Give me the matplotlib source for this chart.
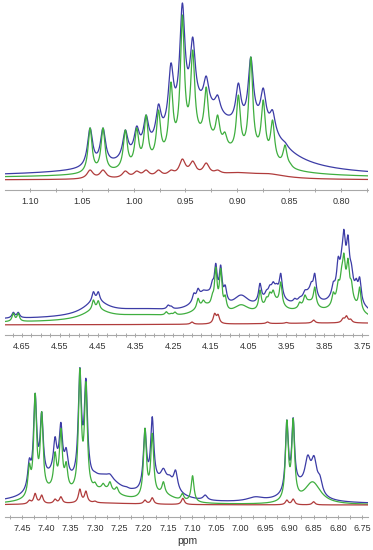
import numpy as np
import matplotlib
matplotlib.use('Agg')
import matplotlib.pyplot as plt
from matplotlib.ticker import MultipleLocator, FormatStrFormatter
from matplotlib import font_manager

# ---------------- data (intensities in arbitrary units) ----------------
# Panel 1 : 0.77 - 1.12 ppm
p1_range = (1.124, 0.774)
p1_blue_base = 13
p1_blue_env_c = [0.935, 0.875]
p1_blue_env_h = [62, 30]
p1_blue_env_w = [0.04, 0.025]
p1_blue_pk = [1.042, 1.0295, 1.008, 0.997, 0.988, 0.976, 0.964, 0.953, 0.943, 0.930, 0.919, 0.899, 0.887, 0.875, 0.866, 0.854]
p1_blue_h = [62, 62, 60, 64, 75, 86, 127, 187, 153, 114, 95, 107, 133, 102, 80, 48]

p1_green_base = 12
p1_green_env_c = [0.935, 0.88]
p1_green_env_h = [35, 10]
p1_green_env_w = [0.035, 0.02]
p1_green_pk = [1.042, 1.0295, 1.008, 0.997, 0.988, 0.976, 0.964, 0.953, 0.943, 0.930, 0.919, 0.912, 0.899, 0.887, 0.875, 0.866, 0.854, 0.849]
p1_green_h = [62, 62, 60, 62, 75, 80, 108, 175, 140, 103, 75, 58, 95, 133, 90, 70, 45, 27]

p1_red_base = 10
p1_red_env_c = [0.94, 0.90, 0.87]
p1_red_env_h = [3, 4, 4]
p1_red_env_w = [0.05, 0.02, 0.02]
p1_red_pk = [1.042, 1.0295, 1.008, 0.997, 0.988, 0.976, 0.964, 0.953, 0.943, 0.930, 0.919]
p1_red_h = [20, 20, 19, 19, 20, 20, 20, 31, 29, 27, 20]

# Panel 2 : 3.73 - 4.70 ppm
p2_range = (4.695, 3.734)
p2_blue_base = 15
p2_blue_env_c = [4.455, 4.33, 4.165, 4.07, 3.985, 3.89, 3.95, 3.795]
p2_blue_env_h = [14, 8, 20, 14, 18, 16, 6, 36]
p2_blue_env_w = [0.04, 0.12, 0.035, 0.025, 0.028, 0.025, 0.15, 0.03]
p2_blue_pk = [4.673, 4.660, 4.461, 4.448, 4.263, 4.255, 4.195, 4.184, 4.17, 4.157, 4.146, 4.137, 4.124, 4.112,
              4.02, 4.003, 3.994, 3.985, 3.976, 3.965, 3.928, 3.915, 3.901, 3.884, 3.875,
              3.826, 3.813, 3.804, 3.798, 3.787, 3.778, 3.765, 3.756]
p2_blue_h = [22.7, 22.7, 43.3, 43.3, 30, 29, 42, 46.7, 45, 43, 55, 71.7, 70, 50,
             51.7, 45, 50, 53.3, 51.7, 61.7, 36.7, 38, 45, 53.3, 61.7,
             53.3, 78.3, 85, 105.7, 100, 71.7, 56.7, 58]

p2_green_base = 12
p2_green_env_c = [4.455, 4.33, 4.165, 4.07, 3.985, 3.89, 3.95, 3.795]
p2_green_env_h = [10, 6, 12, 10, 14, 12, 5, 26]
p2_green_env_w = [0.04, 0.12, 0.035, 0.025, 0.028, 0.025, 0.15, 0.03]
p2_green_pk = [4.673, 4.660, 4.461, 4.448, 4.268, 4.255, 4.245, 4.184, 4.17, 4.146, 4.137, 4.124, 4.112,
               4.02, 4.003, 3.994, 3.985, 3.965, 3.915, 3.901, 3.875,
               3.826, 3.813, 3.804, 3.798, 3.787, 3.778, 3.756]
p2_green_h = [21.7, 21.7, 35, 34.3, 23.3, 21.7, 23, 36.7, 35, 41.7, 68, 66.7, 40,
              45, 38, 43, 45, 53, 33, 40, 48,
              43, 55, 68, 82, 76.7, 55, 48]

p2_red_base = 10
p2_red_env_c = [3.8]
p2_red_env_h = [2]
p2_red_env_w = [0.3]
p2_red_pk = [4.2, 4.14, 4.131, 4.0, 3.95, 3.878, 3.80, 3.791, 3.78]
p2_red_h = [13, 21.7, 20.7, 13, 12.5, 15, 17, 19.3, 16]

# Panel 3 : 6.73 - 7.49 ppm
p3_range = (7.485, 6.738)
p3_blue_base = 13
p3_blue_env_c = [7.38, 7.28, 7.16, 6.97, 6.88]
p3_blue_env_h = [25, 22, 18, 4, 15]
p3_blue_env_w = [0.04, 0.04, 0.03, 0.02, 0.03]
p3_blue_pk = [7.435, 7.423, 7.4095, 7.382, 7.370, 7.359, 7.331, 7.3185, 7.300, 7.283, 7.269, 7.259,
              7.235, 7.221, 7.197, 7.182, 7.159, 7.146, 7.134, 7.073, 6.905, 6.892, 6.862, 6.849, 6.837]
p3_blue_h = [58.7, 123.7, 105.3, 80.3, 94.7, 69.3, 149.3, 138.7, 45.3, 42, 43, 37,
             30.3, 28.7, 88.7, 100.3, 48.7, 42, 47, 22, 97, 99.3, 62, 61.3, 42]
p3_blue_pw = [0.004, 0.004, 0.004, 0.004, 0.004, 0.004, 0.004, 0.004, 0.006, 0.006, 0.006, 0.006,
              0.006, 0.006, 0.004, 0.004, 0.006, 0.006, 0.005, 0.005, 0.0035, 0.0035, 0.007, 0.007, 0.006]

p3_green_base = 12
p3_green_env_c = [7.38, 7.28, 7.16, 6.852]
p3_green_env_h = [12, 12, 8, 22]
p3_green_env_w = [0.04, 0.04, 0.03, 0.02]
p3_green_pk = [7.435, 7.423, 7.4095, 7.382, 7.370, 7.359, 7.331, 7.3185, 7.300, 7.283, 7.269, 7.255,
               7.221, 7.197, 7.182, 7.159, 7.12, 7.099, 6.905, 6.892]
p3_green_h = [53.7, 123.7, 105.3, 65.3, 88.7, 55.3, 148.7, 135.3, 35, 33.7, 35.3, 30,
              20.3, 88.7, 83.7, 35.3, 23.7, 41.3, 97, 98.7]

p3_red_base = 12
p3_red_env_c = [7.3]
p3_red_env_h = [2]
p3_red_env_w = [0.1]
p3_red_pk = [7.435, 7.423, 7.4095, 7.382, 7.370, 7.331, 7.3185, 7.30, 7.197, 7.182, 7.119, 6.905, 6.892, 6.85]
p3_red_h = [17, 23.7, 22, 18, 20.3, 28, 26, 16, 17, 19.3, 18.7, 17, 18, 15.3]

# line widths (hwhm, ppm) per spectrum
p1_w = {'blue': 0.003, 'green': 0.0023, 'red': 0.0035}
p2_w = {'blue': 0.0045, 'green': 0.004, 'red': 0.0045}
p3_w = {'blue': p3_blue_pw, 'green': 0.0035, 'red': 0.0035}

# ---------------- helpers ----------------
def lor(x, c, w):
    return 1.0 / (1.0 + ((x - c) / w) ** 2)

def build(x, base, env_c, env_h, env_w, pk_c, pk_h, w):
    pk_c = np.asarray(pk_c, float)
    pk_h = np.asarray(pk_h, float)
    w = np.broadcast_to(np.asarray(w, float), pk_c.shape)
    def env(xx):
        out = np.full_like(xx, float(base))
        for c, h, ww in zip(env_c, env_h, env_w):
            out += h * lor(xx, c, ww)
        return out
    M = lor(pk_c[:, None], pk_c[None, :], w[None, :])
    target = pk_h - env(pk_c)
    A = np.clip(target, 0, None)
    for _ in range(1500):
        A = np.clip(A + 0.25 * (target - M @ A), 0, None)
    return env(x) + lor(x[:, None], pk_c[None, :], w[None, :]) @ A

try:
    font_manager.findfont('Liberation Sans Narrow', fallback_to_default=False)
    tfam = 'Liberation Sans Narrow'
except Exception:
    tfam = 'Liberation Sans'

BLUE = '#3c3ca6'
GREEN = '#3fae3f'
RED = '#b03c3c'

W, H = 373, 550
fig = plt.figure(figsize=(W / 100, H / 100), dpi=100)

def panel(top_px, bot_px, xr, spectra, widths, major, minor):
    ax = fig.add_axes([5 / W, 1 - bot_px / H, 363 / W, (bot_px - top_px) / H])
    x = np.linspace(xr[0], xr[1], 4000)
    for key, color in (('blue', BLUE), ('green', GREEN), ('red', RED)):
        base, ec, eh, ew, pc, ph = spectra[key]
        y = build(x, base, ec, eh, ew, pc, ph, widths[key])
        ax.plot(x, y, color=color, lw=0.9, solid_joinstyle='round')
    ax.set_xlim(xr[0], xr[1])
    ax.set_ylim(0, bot_px - top_px)
    for s in ('top', 'left', 'right'):
        ax.spines[s].set_visible(False)
    ax.spines['bottom'].set_color('#a8a8a8')
    ax.spines['bottom'].set_linewidth(0.8)
    ax.set_yticks([])
    ax.xaxis.set_major_locator(MultipleLocator(major))
    ax.xaxis.set_minor_locator(MultipleLocator(minor))
    ax.xaxis.set_major_formatter(FormatStrFormatter('%.2f'))
    ax.tick_params(axis='x', which='both', direction='inout', color='#a8a8a8', width=0.7)
    ax.tick_params(axis='x', which='major', length=3, pad=3.5, labelsize=6.5, labelcolor='#333333')
    ax.tick_params(axis='x', which='minor', length=3)
    for lab in ax.get_xticklabels():
        lab.set_fontfamily(tfam)
    ax.patch.set_alpha(0)
    return ax

panel(0, 190, p1_range,
      {'blue': (p1_blue_base, p1_blue_env_c, p1_blue_env_h, p1_blue_env_w, p1_blue_pk, p1_blue_h),
       'green': (p1_green_base, p1_green_env_c, p1_green_env_h, p1_green_env_w, p1_green_pk, p1_green_h),
       'red': (p1_red_base, p1_red_env_c, p1_red_env_h, p1_red_env_w, p1_red_pk, p1_red_h)},
      p1_w, 0.05, 0.025)

ax2 = panel(205, 335, p2_range,
      {'blue': (p2_blue_base, p2_blue_env_c, p2_blue_env_h, p2_blue_env_w, p2_blue_pk, p2_blue_h),
       'green': (p2_green_base, p2_green_env_c, p2_green_env_h, p2_green_env_w, p2_green_pk, p2_green_h),
       'red': (p2_red_base, p2_red_env_c, p2_red_env_h, p2_red_env_w, p2_red_pk, p2_red_h)},
      p2_w, 0.1, 0.025)
ax2.set_xticks(np.arange(4.65, 3.70, -0.1))
for lab in ax2.get_xticklabels():
    lab.set_fontfamily(tfam)

panel(362, 517, p3_range,
      {'blue': (p3_blue_base, p3_blue_env_c, p3_blue_env_h, p3_blue_env_w, p3_blue_pk, p3_blue_h),
       'green': (p3_green_base, p3_green_env_c, p3_green_env_h, p3_green_env_w, p3_green_pk, p3_green_h),
       'red': (p3_red_base, p3_red_env_c, p3_red_env_h, p3_red_env_w, p3_red_pk, p3_red_h)},
      p3_w, 0.05, 0.025)

fig.text(187 / W, 1 - 541 / H, 'ppm', ha='center', va='center', fontsize=7.5,
         family='Liberation Sans', color='#333333')

fig.savefig('out.png', dpi=100)
